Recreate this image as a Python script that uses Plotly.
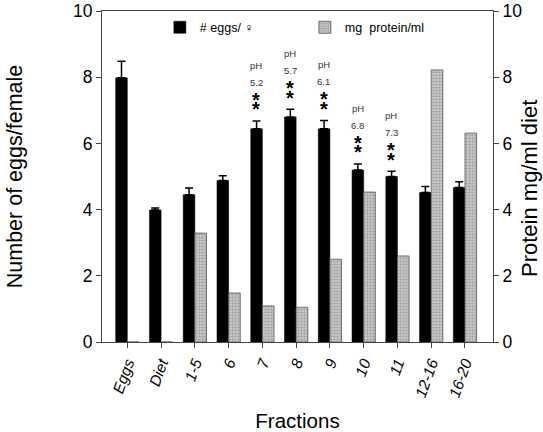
import plotly.graph_objects as go

categories = ["Eggs", "Diet", "1-5", "6", "7", "8", "9", "10", "11", "12-16", "16-20"]
eggs_per_female = [7.98, 3.99, 4.45, 4.88, 6.44, 6.8, 6.44, 5.2, 5.0, 4.52, 4.67]
eggs_err = [0.5, 0.06, 0.2, 0.14, 0.24, 0.23, 0.25, 0.18, 0.16, 0.18, 0.17]
protein_mg_ml = [0, 0, 3.29, 1.48, 1.09, 1.05, 2.5, 4.53, 2.6, 8.22, 6.31]
ph_labels = {"7": "5.2", "8": "5.7", "9": "6.1", "10": "6.8", "11": "7.3"}

FONT = "Arial, Liberation Sans, sans-serif"

fig = go.Figure()
fig.add_trace(go.Bar(
    x=categories, y=eggs_per_female, name="# eggs/ \u2640",
    offsetgroup="eggs",
    marker=dict(color="black", line=dict(color="black", width=0.5)),
    error_y=dict(type="data", symmetric=False, array=eggs_err,
                 arrayminus=[0] * len(eggs_err), color="black",
                 thickness=1.5, width=4),
    yaxis="y",
))
fig.add_trace(go.Bar(
    x=categories, y=protein_mg_ml, name="mg  protein/ml",
    offsetgroup="protein",
    marker=dict(color="#c4c4c4", line=dict(color="#555555", width=0.8),
                pattern=dict(shape=".", fgcolor="#7a7a7a", bgcolor="#cfcfcf",
                             size=3, solidity=0.5)),
    yaxis="y2",
))

# pH and significance annotations above the black bars
for i, c in enumerate(categories):
    if c in ph_labels:
        top = eggs_per_female[i] + eggs_err[i]
        for off in (0.35, 0.64):
            fig.add_annotation(x=i, y=top + off, xref="x", yref="y",
                               xshift=-6, text="<b>*</b>", showarrow=False,
                               font=dict(family=FONT, size=20, color="black"),
                               yanchor="middle")
        fig.add_annotation(x=i, y=top + 1.17, xref="x", yref="y", xshift=-6,
                           text=ph_labels[c], showarrow=False,
                           font=dict(family=FONT, size=9.5, color="#333"),
                           yanchor="middle")
        fig.add_annotation(x=i, y=top + 1.68, xref="x", yref="y", xshift=-6,
                           text="pH", showarrow=False,
                           font=dict(family=FONT, size=9.5, color="#333"),
                           yanchor="middle")

# right axis title
fig.add_annotation(x=1.0, y=0.5, xref="paper", yref="paper", xshift=22, yshift=-12,
                   text="Protein mg/ml diet", textangle=-90, showarrow=False,
                   font=dict(family=FONT, size=22, color="black"),
                   xanchor="left", yanchor="middle")

fig.update_layout(
    width=543, height=432,
    margin=dict(l=102, r=50, t=11, b=90, autoexpand=False),
    paper_bgcolor="white", plot_bgcolor="white",
    barmode="group", bargap=0.31, bargroupgap=0,
    font=dict(family=FONT, color="black"),
    showlegend=True,
    legend=dict(orientation="h", x=0.148, y=0.995, xanchor="left", yanchor="top",
                font=dict(family=FONT, size=12.5), bgcolor="rgba(0,0,0,0)",
                entrywidth=100, entrywidthmode="pixels", itemwidth=30),
    xaxis=dict(
        type="category", automargin=False,
        range=[-0.75, 10.83], showline=True, linecolor="#444", linewidth=1,
        mirror=True, ticks="outside", ticklen=5, tickcolor="#444",
        tickangle=-70, tickfont=dict(family=FONT, size=15.5),
        showgrid=False,
        title=dict(text="Fractions", font=dict(family=FONT, size=20.5), standoff=18),
        tickmode="array", tickvals=categories,
        ticktext=["<i>%s</i>" % c for c in categories],
    ),
    yaxis=dict(
        range=[0, 10], tickvals=[0, 2, 4, 6, 8, 10], showline=True,
        automargin=False, ticklabeloverflow="allow",
        linecolor="#444", linewidth=1, ticks="outside", ticklen=5,
        tickcolor="#444", showgrid=False, zeroline=False,
        tickfont=dict(family=FONT, size=17.5),
        title=dict(text="Number of eggs/female", font=dict(family=FONT, size=21.5),
                   standoff=44),
    ),
    yaxis2=dict(
        range=[0, 10], tickvals=[0, 2, 4, 6, 8, 10], overlaying="y",
        automargin=False, ticklabeloverflow="allow",
        side="right", showline=True, linecolor="#444", linewidth=1,
        ticks="outside", ticklen=5, tickcolor="#444", showgrid=False,
        zeroline=False, tickfont=dict(family=FONT, size=17.5),
    ),
)

fig.write_html("out.html", config={"displayModeBar": False},
               post_script="document.body.style.margin='0';")
